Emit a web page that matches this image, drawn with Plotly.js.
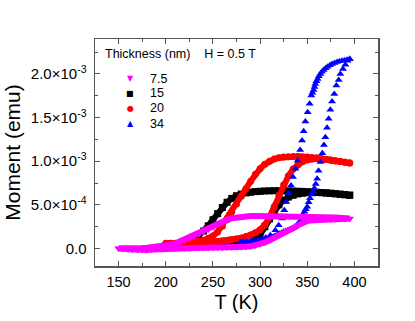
<!DOCTYPE html>
<html>
<head>
<meta charset="utf-8">
<script src="https://cdn.plot.ly/plotly-3.0.1.min.js"></script>
<style>html,body{margin:0;padding:0;background:#fff;}#chart{width:415px;height:321px;}</style>
</head>
<body>
<div id="chart"></div>
<script>
// Moment values are in units of 10^-3 emu (axis labels show ×10^-3 notation)
var seriesNames = ['7.5', '15', '20', '34'];
var seriesColors = ['#ff00ff', '#000000', '#ff0000', '#0000ff'];
var seriesSymbols = ['triangle-down', 'square', 'circle', 'triangle-up'];

// 7.5 nm
var t75Heat = [150,155,160,165,170,175,180,185,190,195,200,205,210,215,220,225,230,235,240,245,250,255,260,265,270,275,280,285,290,295,300,305,310,315,320,325,330,335,340,345,350,355,360,365,370,375,380,385,390,395];
var m75Heat = [0.0,-0.005,-0.01,-0.013,-0.016,-0.018,-0.016,-0.012,-0.008,-0.004,0.0,0.0,0.0,0.002,0.003,0.004,0.005,0.005,0.006,0.007,0.008,0.009,0.01,0.011,0.012,0.014,0.016,0.02,0.025,0.035,0.05,0.07,0.095,0.12,0.15,0.18,0.21,0.235,0.265,0.295,0.315,0.325,0.33,0.333,0.335,0.335,0.336,0.337,0.338,0.34];
var t75Cool = [395,390,385,380,375,370,365,360,355,350,345,340,335,330,325,320,315,310,305,300,295,290,285,280,275,270,265,260,255,250,245,240,235,230,225,220,215,210,205,200,195,190,185,180,175,170,165,160,155,150];
var m75Cool = [0.345,0.35,0.352,0.355,0.357,0.36,0.362,0.364,0.366,0.368,0.37,0.372,0.374,0.376,0.378,0.378,0.378,0.378,0.377,0.376,0.374,0.372,0.37,0.365,0.358,0.348,0.33,0.305,0.275,0.245,0.215,0.19,0.165,0.14,0.115,0.095,0.075,0.058,0.045,0.035,0.027,0.02,0.015,0.01,0.006,0.004,0.003,0.002,0.002,0.002];

// 15 nm
var t15Heat = [200,205,210,215,220,225,230,235,240,245,250,255,260,265,270,275,280,285,290,295,300,305,310,315,320,325,330,335,340,345,350,355,360,365,370,375,380,385,390,395];
var m15Heat = [0.03,0.028,0.027,0.026,0.026,0.026,0.027,0.028,0.029,0.03,0.031,0.032,0.033,0.034,0.036,0.038,0.042,0.05,0.065,0.1,0.16,0.25,0.34,0.43,0.5,0.555,0.59,0.61,0.625,0.635,0.64,0.642,0.642,0.64,0.637,0.633,0.628,0.622,0.616,0.61];
var t15Cool = [395,390,385,380,375,370,365,360,355,350,345,340,335,330,325,320,315,310,305,300,295,290,285,280,275,270,265,260,255,250,245,240,235,230,225,220,215,210,205,200];
var m15Cool = [0.612,0.617,0.622,0.627,0.632,0.637,0.641,0.645,0.648,0.651,0.654,0.656,0.658,0.66,0.661,0.662,0.662,0.661,0.659,0.656,0.652,0.646,0.637,0.624,0.605,0.575,0.53,0.47,0.4,0.33,0.26,0.2,0.15,0.1,0.068,0.05,0.04,0.034,0.031,0.03];

// 20 nm
var t20Heat = [200,205,210,215,220,225,230,235,240,245,250,255,260,265,270,275,280,285,290,295,300,305,310,315,320,325,330,335,340,345,350,355,360,365,370,375,380,385,390,395];
var m20Heat = [0.05,0.05,0.051,0.052,0.054,0.056,0.059,0.062,0.066,0.07,0.075,0.08,0.086,0.093,0.1,0.11,0.122,0.137,0.155,0.18,0.215,0.27,0.36,0.48,0.61,0.73,0.83,0.91,0.96,0.995,1.015,1.025,1.028,1.025,1.02,1.012,1.004,0.996,0.988,0.98];
var t20Cool = [395,390,385,380,375,370,365,360,355,350,345,340,335,330,325,320,315,310,305,300,295,290,285,280,275,270,265,260,255,250,245,240,235,230,225,220,215,210,205,200];
var m20Cool = [0.98,0.988,0.997,1.006,1.015,1.024,1.032,1.039,1.044,1.048,1.051,1.053,1.053,1.052,1.048,1.04,1.025,1.0,0.965,0.915,0.85,0.77,0.685,0.6,0.51,0.42,0.33,0.255,0.19,0.145,0.115,0.095,0.083,0.075,0.07,0.066,0.063,0.061,0.06,0.06];

// 34 nm
var t34Heat = [279,281,283,285,287,289,291,293,295,297,299,301,303,305,307,309,311,313,315,317,319,321,323,325,327,329,331,333,335,337,339,341,342.5,344,345.5,347,348.5,350,351.5,353,354.5,356,357.5,359,360.5,362,364,366,367.7,369.2,371,372.7,374.5,376.3,378.7,380.9,383.3,385.1,387.9,390.4,392.8,395];
var m34Heat = [0.055,0.056,0.058,0.06,0.062,0.065,0.068,0.071,0.075,0.079,0.083,0.088,0.093,0.099,0.106,0.113,0.121,0.13,0.14,0.15,0.16,0.171,0.182,0.192,0.2,0.206,0.212,0.22,0.232,0.247,0.27,0.29,0.315,0.35,0.385,0.42,0.45,0.48,0.53,0.575,0.62,0.65,0.69,0.74,0.8,0.89,0.99,1.09,1.185,1.276,1.383,1.486,1.589,1.683,1.771,1.866,1.931,2.0,2.057,2.106,2.152,2.17];
var t34Cool = [395,392.2,389.5,386.9,384.2,381.6,379,376.3,374,371.6,369.5,367.4,365.5,363.9,362.4,361,359.8,358.6,357.7,356.8,355.5,354.3,352.5,350.4,348,346.2,344.5,342.5,339.9,337.4,334.9,332.8,330.3,327.8,325.7,323.3,319.7,316.2,310.9,306,302,298,294,290,286,282,279];
var m34Cool = [2.171,2.163,2.158,2.152,2.145,2.137,2.126,2.114,2.1,2.083,2.065,2.046,2.025,2.0,1.972,1.943,1.915,1.886,1.85,1.817,1.785,1.752,1.657,1.561,1.455,1.344,1.238,1.13,1.009,0.914,0.818,0.723,0.629,0.533,0.438,0.343,0.266,0.209,0.152,0.125,0.11,0.1,0.093,0.087,0.082,0.078,0.075];

var yTickVals = [0, 0.5, 1.0, 1.5, 2.0];
var yTickText = ['0.0', '5.0×10<sup>-4</sup>', '1.0×10<sup>-3</sup>', '1.5×10<sup>-3</sup>', '2.0×10<sup>-3</sup>'];
var yMinorVals = [0.25, 0.75, 1.25, 1.75, 2.25];
var xTickVals = [150, 200, 250, 300, 350, 400];
var xMinorVals = [175, 225, 275, 325, 375];

function loopTrace(i, th, mh, tc, mc, withLine) {
  return {
    type: 'scatter',
    mode: withLine ? 'lines+markers' : 'markers',
    x: th.concat(tc), y: mh.concat(mc),
    name: seriesNames[i],
    line: {color: seriesColors[i], width: 6},
    marker: {symbol: seriesSymbols[i], color: seriesColors[i], size: withLine ? 7 : 7},
    showlegend: false, hoverinfo: 'skip'
  };
}

var traces = [
  loopTrace(1, t15Heat, m15Heat, t15Cool, m15Cool, true),
  loopTrace(2, t20Heat, m20Heat, t20Cool, m20Cool, true),
  loopTrace(3, t34Heat, m34Heat, t34Cool, m34Cool, false),
  loopTrace(0, t75Heat, m75Heat, t75Cool, m75Cool, true)
];

var font = 'Arial, "Liberation Sans", sans-serif';
var axisCol = '#555555';
var symbolChars = ['▼', '■', '●', '▲'];
var legendY = [0.824, 0.762, 0.694, 0.627];
var annotations = [{
  xref: 'paper', yref: 'paper', x: 0.03, y: 0.935, xanchor: 'left', yanchor: 'middle',
  text: 'Thickness (nm)    H = 0.5 T', showarrow: false,
  font: {family: font, size: 12.5, color: '#000'}
}];
for (var i = 0; i < 4; i++) {
  annotations.push({xref: 'paper', yref: 'paper', x: 0.124, y: legendY[i], xanchor: 'center', yanchor: 'middle',
    text: symbolChars[i], showarrow: false, font: {family: 'DejaVu Sans', size: 8, color: seriesColors[i]}});
  annotations.push({xref: 'paper', yref: 'paper', x: 0.188, y: legendY[i], xanchor: 'left', yanchor: 'middle',
    text: seriesNames[i], showarrow: false, font: {family: font, size: 12.5, color: '#000'}});
}

var layout = {
  width: 415, height: 321,
  margin: {l: 95, r: 37, t: 39, b: 55},
  paper_bgcolor: '#fff', plot_bgcolor: '#fff',
  font: {family: font, color: '#000'},
  showlegend: false,
  xaxis: {
    range: [125, 425], tickmode: 'array', tickvals: xTickVals,
    ticks: 'inside', ticklen: 5, tickwidth: 1, tickcolor: axisCol,
    minor: {tickmode: 'array', tickvals: xMinorVals, ticks: 'inside', ticklen: 3, tickcolor: axisCol},
    showline: true, linecolor: axisCol, linewidth: 1.5, mirror: 'ticks',
    showgrid: false, zeroline: false,
    tickfont: {family: font, size: 14.5, color: '#000'},
    ticklabelstandoff: 2,
    title: {text: 'T (K)', font: {family: font, size: 20, color: '#000'}, standoff: 6}
  },
  yaxis: {
    range: [-0.2, 2.4], tickmode: 'array', tickvals: yTickVals, ticktext: yTickText,
    ticks: 'inside', ticklen: 5, tickwidth: 1, tickcolor: axisCol,
    minor: {tickmode: 'array', tickvals: yMinorVals, ticks: 'inside', ticklen: 3, tickcolor: axisCol},
    showline: true, linecolor: axisCol, linewidth: 1.5, mirror: 'ticks',
    showgrid: false, zeroline: false,
    tickfont: {family: font, size: 15, color: '#000'},
    ticklabelstandoff: 4,
    title: {text: 'Moment (emu)', font: {family: font, size: 21, color: '#000'}, standoff: 4}
  },
  annotations: annotations
};

Plotly.newPlot('chart', traces, layout, {displayModeBar: false, staticPlot: true});
</script>
</body>
</html>
